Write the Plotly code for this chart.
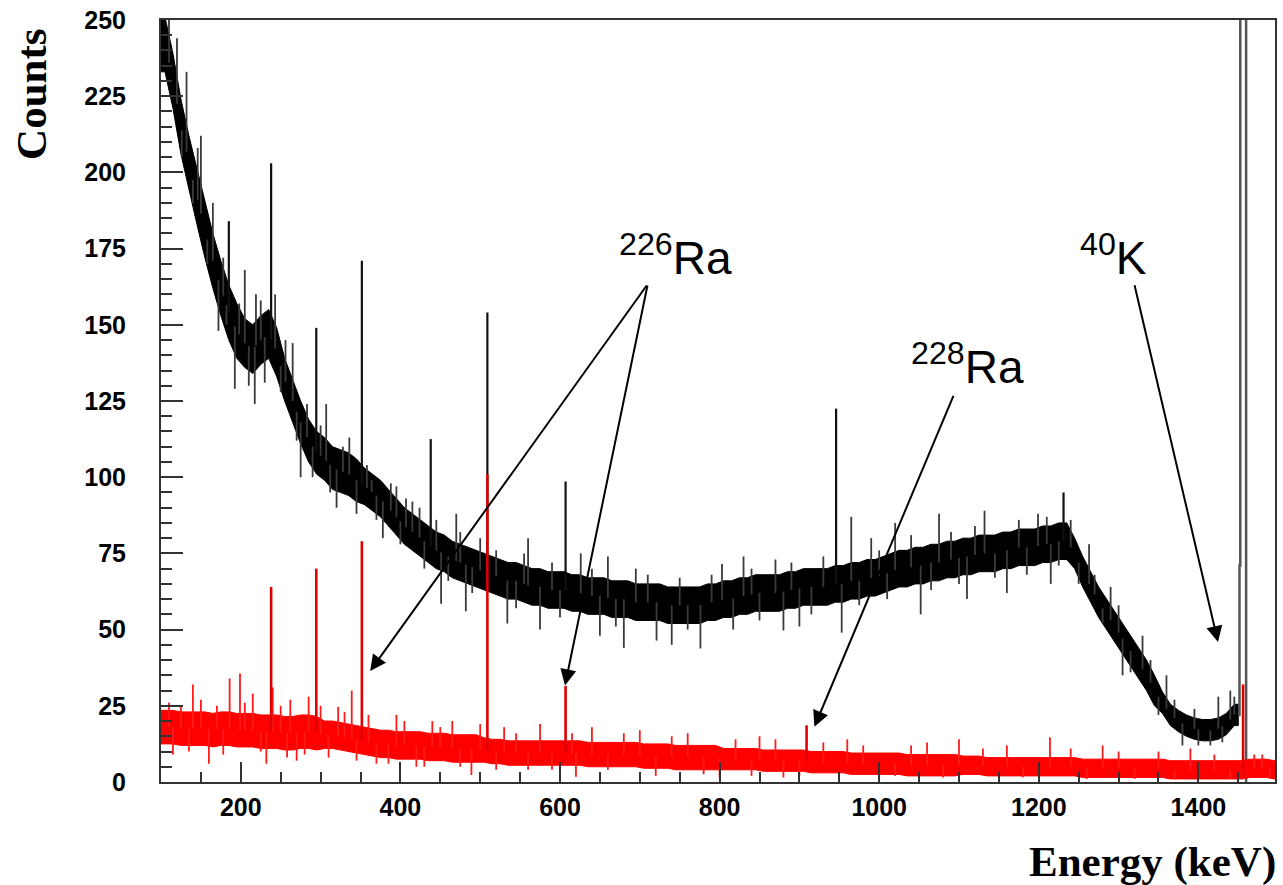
import numpy as np
import plotly.graph_objects as go

# ---------------- data ----------------
bin_width = 10.0          # keV per band bin
black_start = 100.0       # left edge of first black bin (keV)
red_start = 100.0

# black spectrum: centre of the noisy band and its half thickness, per 10 keV bin (105..1445 keV)
black_mid = [
    242, 230, 215, 203, 192, 181, 171, 162, 154, 148,
    144, 142, 145, 147, 141, 132, 125, 118, 112, 108,
    106, 103, 102, 101, 99, 97, 95, 93, 90, 87,
    84, 82, 80, 78, 76, 75, 73, 72, 71, 70,
    69, 68, 67, 66, 66, 65, 64, 64, 63, 63,
    63, 62, 62, 61, 61, 61, 60, 60, 60, 59,
    59, 59, 59, 58, 58, 58, 58, 58, 59, 59,
    60, 60, 61, 61, 62, 62, 62, 62, 63, 63,
    64, 64, 64, 64, 65, 65, 66, 66, 67, 67,
    68, 69, 70, 70, 71, 71, 72, 72, 73, 73,
    74, 74, 75, 75, 75, 76, 76, 77, 77, 77,
    78, 78, 79, 79, 75, 69, 64, 59, 55, 51,
    47, 43, 39, 35, 30, 26, 22, 20, 18.5, 17.5,
    17, 17, 17.5, 19, 22,
]
black_half = [9] * 10 + [8] * 5 + [7] * 10 + [6] * 89 + [5] * 11 + [3.5] * 10

# red spectrum: centre of band and half thickness, per 10 keV bin (105..1495 keV)
red_mid = [
    18, 18, 17.5, 17.5, 17.5, 17.5, 17, 17.5, 17.5, 17,
    17, 17, 16.5, 16.5, 16.5, 16, 16, 16.5, 16.5, 16,
    15.5, 15.5, 15, 14.5, 14, 13.5, 13, 12.5, 12.5, 12,
    12, 12, 12, 11.5, 11.5, 11.5, 11, 11, 11, 11,
    10.5, 10, 10, 9.5, 9.5, 9.5, 9.5, 9.5, 9.5, 9.5,
    9.5, 9.5, 9.5, 9, 9, 9, 9, 9, 9, 9,
    8.5, 8.5, 8.5, 8.5, 8, 8, 8, 8, 8, 8,
    7.5, 7.5, 7.5, 7.5, 7.5, 7, 7, 7, 7, 7,
    7, 6.5, 6.5, 6.5, 6.5, 6.5, 6, 6, 6, 6,
    6, 6, 6, 5.5, 5.5, 5.5, 5.5, 5.5, 5.5, 5.5,
    5.5, 5.5, 5.5, 5, 5, 5, 5, 5, 5, 5,
    5, 5, 5, 5, 5, 4.5, 4.5, 4.5, 4.5, 4.5,
    4.5, 4.5, 4.5, 4.5, 4.5, 4.5, 4, 4, 4, 4,
    4, 4, 4, 4, 4, 4, 4.5, 4.5, 4.5, 4,
]
red_half = [5.5] * 20 + [4.5] * 20 + [4] * 30 + [3.5] * 30 + [3] * 40

# photopeaks (energy keV, top counts)
black_peak_E = [185, 238, 294.6, 351.7, 438, 509, 607, 946, 1231]
black_peak_top = [184, 203, 149, 171, 112.5, 154, 98.6, 122.5, 95]
red_peak_E = [238, 294.6, 351.7, 509, 607, 909, 1456]
red_peak_top = [64, 70, 79, 101, 31.5, 18.6, 32]

# single-channel noise excursions beyond the band
black_spike_E = [132, 150, 165, 172, 192.5, 205, 217.5, 219, 230, 243, 265, 275, 307, 320, 336,
                 364, 378, 395, 407, 424, 451, 470, 482, 534, 560, 575, 626, 650, 660, 680, 695,
                 721, 740, 776, 803, 817, 830, 870, 880, 900, 953, 965, 990, 1020, 1052, 1075,
                 1110, 1132, 1160, 1199, 1215, 1263, 1290, 1305, 1330, 1360, 1380, 1415, 1425, 1440,
                 110, 120, 126, 140, 146, 158, 178, 182, 198, 210, 225, 250, 256, 270, 283, 290,
                 300, 312, 328, 345, 358, 370, 388, 400, 415, 430, 445, 460, 475, 490, 500, 520,
                 545, 555, 590, 600, 640, 670, 710, 750, 760, 790, 840, 850, 890, 915, 930, 975,
                 1000, 1010, 1040, 1065, 1090, 1100, 1120, 1145, 1175, 1185, 1210, 1225, 1240,
                 1250, 1270, 1280, 1300, 1315, 1340, 1350, 1370, 1395, 1400, 1430, 1445]
black_spike_val = [233, 212, 190, 148, 129, 168, 124, 160, 131, 160, 144, 100, 124, 90, 113,
                   99, 80, 97, 93, 90, 58.5, 88, 56, 52, 80, 50, 75, 48, 74, 44, 70,
                   46.4, 45, 43.8, 71.5, 50, 74, 73, 49.7, 51, 49, 87, 80, 85, 55, 88,
                   60, 89, 62, 88, 65, 78, 64, 35, 48, 35, 12, 12, 28, 30,
                   252, 244, 205, 190, 208, 170, 172, 150, 157, 130, 158, 128, 145, 112, 124, 100,
                   117, 95, 110, 88, 104, 86, 98, 78, 92, 70, 86, 66, 82, 62, 80, 76,
                   57, 75, 72, 54, 70, 51, 68, 67, 50, 68, 70, 53, 72, 55, 74, 58,
                   76, 60, 81, 63, 82, 65, 84, 67, 86, 68, 87, 71, 86,
                   65, 68, 52, 58, 36, 40, 22, 27, 24, 12, 13, 28]
red_spike_E = [140, 160, 186, 199, 215, 232, 240, 262, 270, 285, 322, 339, 370, 395, 420, 440,
               465, 489, 530, 560, 575, 620, 640, 700, 720, 760, 800, 850, 880, 960, 1000, 1060,
               1100, 1160, 1214, 1280, 1320, 1390, 1480,
               110, 115, 125, 135, 150, 170, 178, 205, 225, 250, 258, 280, 300, 310, 330, 345,
               360, 385, 405, 430, 450, 475, 500, 520, 545, 590, 615, 660, 680, 740, 780, 820,
               840, 870, 900, 930, 980, 1020, 1040, 1080, 1130, 1180, 1240, 1260, 1300, 1350,
               1370, 1420, 1440, 1470, 1490]
red_spike_val = [32, 6, 34, 35.6, 29, 6, 31, 27, 7, 28, 24.6, 30, 6, 22, 5, 20,
                 20, 2.3, 18, 4, 19, 1.7, 18, 17, 2, 16, 1.5, 15, 1.5, 14, 1, 13,
                 14, 12, 14.7, 12, 1, 11, 9,
                 26, 9, 25, 10, 27, 25, 9, 26, 10, 25, 8, 9, 25, 8, 23, 7,
                 22, 6, 20, 5, 18, 5, 19, 4, 16, 4, 16, 4, 16, 15, 2.5, 14,
                 2, 14, 2, 13, 12, 2, 12, 1.5, 11, 1.5, 11, 1, 10, 10,
                 1, 9, 1, 9, 1]

# 40K line in the black spectrum (histogram steps, goes off scale)
k40_black_E = [1450, 1451.5, 1452.5, 1459.8]
k40_black_counts = [22, 71, 400, 0]

y_ticks = [0, 25, 50, 75, 100, 125, 150, 175, 200, 225, 250]
x_ticks = [200, 400, 600, 800, 1000, 1200, 1400]


# ---------------- helpers ----------------
def band_polygon(start, mid, half):
    mid = np.asarray(mid, float)
    half = np.asarray(half, float)
    n = len(mid)
    centres = start + bin_width / 2 + np.arange(n) * bin_width
    xs = np.concatenate([[start], centres, [start + n * bin_width]])
    hi = np.concatenate([[mid[0] + half[0]], mid + half, [mid[-1] + half[-1]]])
    lo = np.concatenate([[mid[0] - half[0]], mid - half, [mid[-1] - half[-1]]])
    x = np.concatenate([xs, xs[::-1], xs[:1]])
    y = np.concatenate([hi, lo[::-1], hi[:1]])
    return x, y, centres


def segments(E, top, centres, mid):
    xs, ys = [], []
    base = np.interp(E, centres, mid)
    for e, t, b in zip(E, top, base):
        xs += [e, e, None]
        ys += [b, t, None]
    return xs, ys


bx, by, bcent = band_polygon(black_start, black_mid, black_half)
rx, ry, rcent = band_polygon(red_start, red_mid, red_half)

fig = go.Figure()

# black spectrum
fig.add_trace(go.Scatter(x=bx, y=by, fill="toself", fillcolor="black", mode="lines",
                         line=dict(color="black", width=1), hoverinfo="skip"))
sx, sy = segments(black_spike_E, black_spike_val, bcent, black_mid)
fig.add_trace(go.Scatter(x=sx, y=sy, mode="lines", line=dict(color="#3a3a3a", width=1.8),
                         hoverinfo="skip"))
px_, py_ = segments(black_peak_E, black_peak_top, bcent, black_mid)
fig.add_trace(go.Scatter(x=px_, y=py_, mode="lines", line=dict(color="#111111", width=2.2),
                         hoverinfo="skip"))
fig.add_trace(go.Scatter(x=k40_black_E, y=k40_black_counts, mode="lines", line_shape="hv",
                         line=dict(color="#555555", width=2.5), hoverinfo="skip"))

# red spectrum
fig.add_trace(go.Scatter(x=rx, y=ry, fill="toself", fillcolor="#ff0000", mode="lines",
                         line=dict(color="#ff0000", width=1), hoverinfo="skip"))
sx, sy = segments(red_spike_E, red_spike_val, rcent, red_mid)
fig.add_trace(go.Scatter(x=sx, y=sy, mode="lines", line=dict(color="#ff1a1a", width=1.8),
                         hoverinfo="skip"))
px_, py_ = segments(red_peak_E, red_peak_top, rcent, red_mid)
fig.add_trace(go.Scatter(x=px_, y=py_, mode="lines", line=dict(color="#e00000", width=2.6),
                         hoverinfo="skip"))

axis_col = "#333333"
tick_font = dict(family="Liberation Sans, Arial, sans-serif", size=25, color="black", weight="bold")

fig.update_xaxes(range=[100, 1496], showgrid=False, zeroline=False,
                 showline=True, linecolor=axis_col, linewidth=2, mirror=True,
                 ticks="inside", ticklen=20, tickwidth=2, tickcolor=axis_col,
                 tickvals=x_ticks, tickfont=tick_font, ticklabelstandoff=2,
                 minor=dict(ticks="inside", ticklen=10, tickwidth=2, tickcolor=axis_col,
                            dtick=50, tick0=0))
fig.update_yaxes(range=[0, 250], showgrid=False, zeroline=False,
                 showline=True, linecolor=axis_col, linewidth=2, mirror=True,
                 ticks="inside", ticklen=22, tickwidth=2, tickcolor=axis_col,
                 tickvals=y_ticks, tickfont=tick_font, ticklabelstandoff=28,
                 minor=dict(ticks="inside", ticklen=11, tickwidth=2, tickcolor=axis_col,
                            dtick=5, tick0=0))

label_font = dict(family="Liberation Sans, Arial, sans-serif", size=46, color="black")
title_font = dict(family="Liberation Serif, Times New Roman, serif", size=43, color="black",
                  weight="bold")

annotations = [
    dict(text="Counts", xref="paper", yref="paper", x=-0.1165, y=0.902, textangle=-90,
         showarrow=False, font=title_font, xanchor="center", yanchor="middle"),
    dict(text="Energy (keV)", xref="paper", yref="paper", x=1.0027, y=-0.1046,
         showarrow=False, font=title_font, xanchor="right", yanchor="middle"),
    dict(text="<sup>226</sup>Ra", x=745, y=173, showarrow=False, font=label_font,
         xanchor="center", yanchor="middle"),
    dict(text="<sup>40</sup>K", x=1294, y=173, showarrow=False, font=label_font,
         xanchor="center", yanchor="middle"),
    dict(text="<sup>228</sup>Ra", x=1111, y=137, showarrow=False, font=label_font,
         xanchor="center", yanchor="middle"),
]

arrows = [  # (head E, head counts, tail E, tail counts)
    (362.1, 36.4, 710, 163.4),
    (606.3, 31.7, 710, 163.4),
    (918.8, 18.1, 1093.8, 127.2),
    (1424.6, 45.9, 1319.6, 163.5),
]
for hx, hy, tx, ty in arrows:
    annotations.append(dict(x=hx, y=hy, ax=tx, ay=ty, xref="x", yref="y", axref="x", ayref="y",
                            text="", showarrow=True, arrowhead=2, arrowsize=1.6,
                            arrowwidth=2, arrowcolor="black", standoff=0))

fig.update_layout(width=1283, height=885, margin=dict(l=161, r=6, t=17, b=103),
                  paper_bgcolor="white", plot_bgcolor="white", showlegend=False,
                  annotations=annotations)

fig.write_html("out.html")
